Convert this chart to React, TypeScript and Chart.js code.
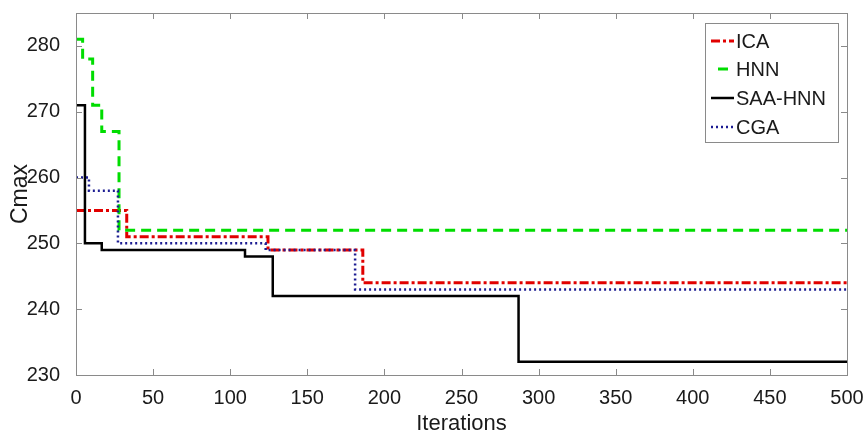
import React, { useEffect, useRef } from "react";
import { Chart, registerables } from "chart.js";

Chart.register(...registerables);

const xTicks = [0, 50, 100, 150, 200, 250, 300, 350, 400, 450, 500];
const yTicks = [230, 240, 250, 260, 270, 280];

const seriesNames = ["ICA", "HNN", "SAA-HNN", "CGA"];

const icaIter = [0, 32.9, 124.5, 186, 500];
const icaCmax = [255, 251, 249, 244, 244];

const hnnIter = [0, 4.3, 10.8, 16.7, 27.9, 500];
const hnnCmax = [281, 278, 271, 267, 252, 252];

const saaIter = [0, 5.8, 16.7, 109.6, 127.6, 287, 500];
const saaCmax = [271, 250, 249, 248, 242, 232, 232];

const cgaIter = [0, 8.4, 27.2, 123, 181, 500];
const cgaCmax = [260, 258, 250, 249, 243, 243];

const FONT = "'Liberation Sans', Arial, Helvetica, sans-serif";
const TEXT = "#1a1a1a";
const FRAME = "#8a8a8a";

const styles = [
  { color: "#e10000", dash: [9, 3, 3, 3], width: 3 },
  { color: "#00dd00", dash: [10, 6], width: 3 },
  { color: "#000000", dash: [], width: 2.5 },
  { color: "#1c1c92", dash: [2, 3], width: 2.5 },
];

const toPoints = (xs: number[], ys: number[]) => xs.map((x, i) => ({ x, y: ys[i] }));

const framePlugin = {
  id: "frame",
  afterDatasetsDraw(chart: any) {
    const { ctx, chartArea } = chart;
    const { left, right, top, bottom } = chartArea;
    const xs = chart.scales.x;
    const ys = chart.scales.y;
    ctx.save();
    ctx.strokeStyle = FRAME;
    ctx.lineWidth = 1;
    ctx.setLineDash([]);
    ctx.strokeRect(Math.round(left) + 0.5, Math.round(top) + 0.5, Math.round(right - left), Math.round(bottom - top));
    const tl = 6;
    ctx.beginPath();
    xTicks.forEach((v) => {
      const px = Math.round(xs.getPixelForValue(v)) + 0.5;
      ctx.moveTo(px, bottom);
      ctx.lineTo(px, bottom - tl);
      ctx.moveTo(px, top);
      ctx.lineTo(px, top + tl);
    });
    yTicks.forEach((v) => {
      const py = Math.round(ys.getPixelForValue(v)) + 0.5;
      ctx.moveTo(left, py);
      ctx.lineTo(left + tl, py);
      ctx.moveTo(right, py);
      ctx.lineTo(right - tl, py);
    });
    ctx.stroke();
    ctx.restore();
  },
  afterDraw(chart: any) {
    const { ctx } = chart;
    const bx = 705, by = 23, bw = 133, bh = 119;
    ctx.save();
    ctx.fillStyle = "#ffffff";
    ctx.fillRect(bx, by, bw, bh);
    ctx.strokeStyle = FRAME;
    ctx.lineWidth = 1;
    ctx.strokeRect(bx + 0.5, by + 0.5, bw, bh);
    const rowY = [41, 69, 98, 127];
    ctx.font = `20px ${FONT}`;
    ctx.textBaseline = "middle";
    ctx.textAlign = "left";
    seriesNames.forEach((name, i) => {
      const s = styles[i];
      ctx.strokeStyle = s.color;
      ctx.lineWidth = s.width;
      ctx.setLineDash(s.dash);
      ctx.beginPath();
      if (i === 1) {
        ctx.moveTo(718, rowY[i]);
        ctx.lineTo(728, rowY[i]);
      } else {
        ctx.moveTo(711, rowY[i]);
        ctx.lineTo(734, rowY[i]);
      }
      ctx.stroke();
      ctx.setLineDash([]);
      ctx.fillStyle = TEXT;
      ctx.fillText(name, 736, rowY[i] + 1);
    });
    ctx.restore();
  },
};

export default function App() {
  const ref = useRef<HTMLCanvasElement | null>(null);

  useEffect(() => {
    if (!ref.current) return;
    const data = [
      toPoints(icaIter, icaCmax),
      toPoints(hnnIter, hnnCmax),
      toPoints(saaIter, saaCmax),
      toPoints(cgaIter, cgaCmax),
    ];
    const chart = new Chart(ref.current, {
      type: "line",
      data: {
        datasets: seriesNames.map((name, i) => ({
          label: name,
          data: data[i],
          stepped: "before" as const,
          borderColor: styles[i].color,
          borderWidth: styles[i].width,
          borderDash: styles[i].dash,
          pointRadius: 0,
          fill: false,
          order: 4 - i,
        })),
      },
      options: {
        animation: false,
        responsive: false,
        devicePixelRatio: 1,
        layout: { padding: { top: 13, right: 18, left: 0, bottom: 0 } },
        plugins: {
          legend: { display: false },
          tooltip: { enabled: false },
        },
        scales: {
          x: {
            type: "linear",
            min: 0,
            max: 500,
            grid: { display: false },
            border: { display: false },
            afterBuildTicks: (s: any) => {
              s.ticks = xTicks.map((value) => ({ value }));
            },
            afterFit: (s: any) => {
              s.height = 59;
              s.paddingLeft = 0;
              s.paddingRight = 0;
              s.paddingTop = 0;
              s.paddingBottom = 0;
            },
            ticks: {
              font: { family: FONT, size: 20 },
              color: TEXT,
              padding: 3,
              maxRotation: 0,
              autoSkip: false,
            },
            title: {
              display: true,
              text: "Iterations",
              font: { family: FONT, size: 22, lineHeight: 0.9 },
              color: TEXT,
              padding: { top: 0, bottom: 0 },
            },
          },
          y: {
            type: "linear",
            min: 230,
            max: 285,
            grid: { display: false },
            border: { display: false },
            afterBuildTicks: (s: any) => {
              s.ticks = yTicks.map((value) => ({ value }));
            },
            afterFit: (s: any) => {
              s.width = 76;
              s.paddingLeft = 0;
              s.paddingRight = 0;
              s.paddingTop = 0;
              s.paddingBottom = 0;
            },
            ticks: {
              font: { family: FONT, size: 20 },
              color: TEXT,
              padding: 8,
              autoSkip: false,
            },
            title: {
              display: true,
              text: "Cmax",
              font: { family: FONT, size: 23, lineHeight: 1 },
              color: TEXT,
              padding: { top: 9, bottom: 0 },
            },
          },
        },
      },
      plugins: [framePlugin],
    });
    return () => chart.destroy();
  }, []);

  return (
    <div style={{ position: "absolute", left: 0, top: 0, width: 865, height: 434, background: "#fff" }}>
      <canvas ref={ref} width={865} height={434} style={{ width: 865, height: 434, display: "block" }} />
    </div>
  );
}
